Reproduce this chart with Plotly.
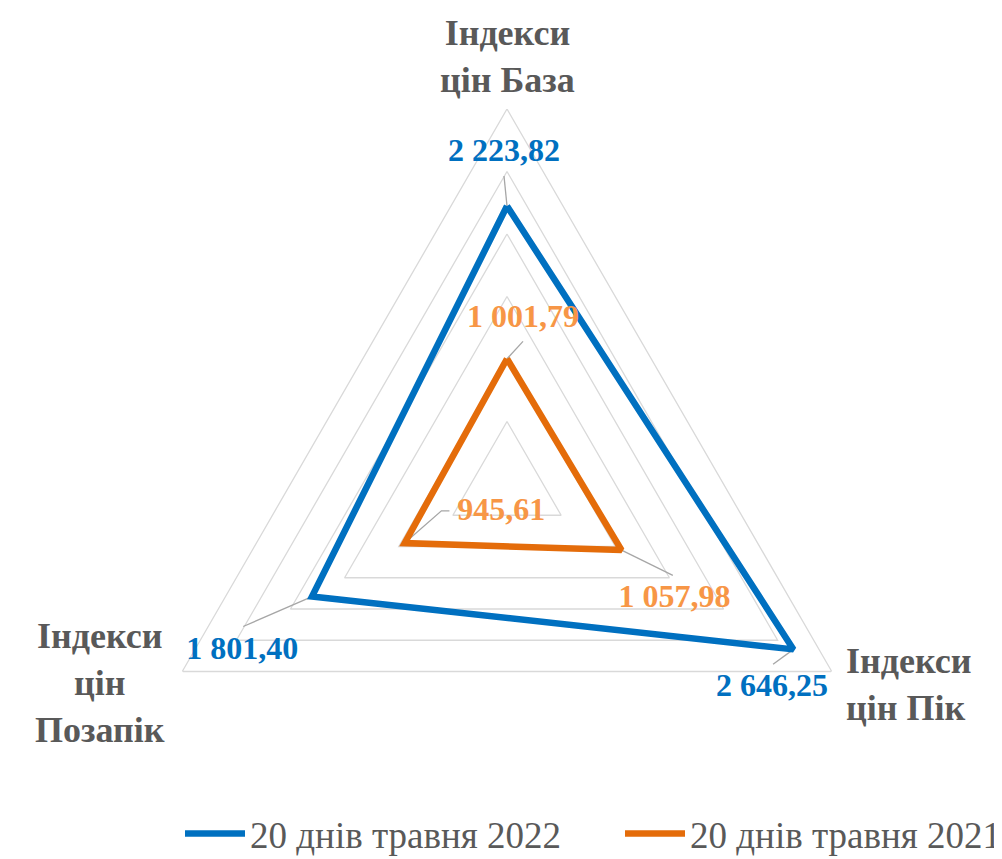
import math
import plotly.graph_objects as go

# ---------------- data ----------------
categories = ["Індекси цін База", "Індекси цін Пік", "Індекси цін Позапік"]
category_labels = ["Індекси<br>цін База", "Індекси<br>цін Пік", "Індекси<br>цін<br>Позапік"]
series_names = ["20 днів травня 2022", "20 днів травня 2021"]
values_2022 = [2223.82, 2646.25, 1801.40]
values_2021 = [1001.79, 1057.98, 945.61]
grid_ticks = [500, 1000, 1500, 2000, 2500, 3000]

# ---------------- styling / layout constants ----------------
OFF = 8                              # page body margin in the browser
VIEW_W, VIEW_H = 1002, 859
W, H = VIEW_W - OFF, VIEW_H - OFF    # figure size
CX, CY = 507, 484                    # centre of the radar (screen px)
R_PX = 375                           # pixel radius of the outer grid triangle
RANGE_MAX = 3000
PX_PER_UNIT = R_PX / RANGE_MAX

BLUE = "#0070C0"
ORANGE = "#E46C0A"
ORANGE_TXT = "#F79646"
GRID = "#D9D9D9"
LEADER = "#A6A6A6"
GREY_TXT = "#595959"
FONT = "Liberation Serif"

# label offsets from their data point, in px (dx right, dy down)
label_off_2022 = [(-3, -52.6), (-21.4, 38.5), (-69.8, 54.6)]
label_off_2021 = [(16, -39.4), (53, 48.9), (96.5, -31.3)]
leader_2022 = [[(-3, -30)], [(-20.4, 14.8)], [(-68.8, 29.9)]]
leader_2021 = [[(16, -17.4)], [(51.3, 25.2)], [(36.8, -32.3), (44.8, -32.3)]]
# category label anchors relative to their vertex (px) and their anchoring
cat_anchor = [(0, -52), (12, 13), (-82, 11)]
cat_xanchor = ["center", "left", "center"]
cat_align = ["center", "left", "center"]

n = len(categories)
theta = [i * 360 / n for i in range(n)]


def fmt(v):
    return f"{v:,.2f}".replace(",", " ").replace(".", ",")


def to_xy(r, th):
    a = math.radians(th)
    return r * math.sin(a), r * math.cos(a)


def to_polar(x, y):
    return math.hypot(x, y), math.degrees(math.atan2(x, y)) % 360


def offset(r, th, dx, dy):
    x, y = to_xy(r, th)
    return to_polar(x + dx / PX_PER_UNIT, y - dy / PX_PER_UNIT)


def paper(sx, sy):
    return (sx - OFF) / W, (H - (sy - OFF)) / H


fig = go.Figure()

# grid triangles
gr, gt = [], []
for t in grid_ticks:
    gr += [t] * (n + 1) + [None]
    gt += theta + [theta[0], None]
fig.add_trace(go.Scatterpolar(r=gr, theta=gt, mode="lines", line=dict(color=GRID, width=1.3),
                              showlegend=False, hoverinfo="skip", connectgaps=False))

# leader lines
lr, lt = [], []
for vals, leads in [(values_2022, leader_2022), (values_2021, leader_2021)]:
    for v, th, pts in zip(vals, theta, leads):
        lr.append(v); lt.append(th)
        for dx, dy in pts:
            rr, tt = offset(v, th, dx, dy)
            lr.append(rr); lt.append(tt)
        lr.append(None); lt.append(None)
fig.add_trace(go.Scatterpolar(r=lr, theta=lt, mode="lines", line=dict(color=LEADER, width=1.3),
                              showlegend=False, hoverinfo="skip", connectgaps=False))

# series
for name, vals, col, lg in [(series_names[0], values_2022, BLUE, "legend"),
                            (series_names[1], values_2021, ORANGE, "legend2")]:
    fig.add_trace(go.Scatterpolar(r=vals + [vals[0]], theta=theta + [theta[0]], mode="lines", name=name,
                                  line=dict(color=col, width=6.5), legend=lg))

# data labels
for vals, offs, col in [(values_2022, label_off_2022, BLUE), (values_2021, label_off_2021, ORANGE_TXT)]:
    rs, ts = [], []
    for v, th, (dx, dy) in zip(vals, theta, offs):
        rr, tt = offset(v, th, dx, dy)
        rs.append(rr); ts.append(tt)
    fig.add_trace(go.Scatterpolar(r=rs, theta=ts, mode="text", text=[fmt(v) for v in vals],
                                  textposition="middle center",
                                  textfont=dict(family=FONT, size=32, color=col, weight="bold"),
                                  showlegend=False, hoverinfo="skip", cliponaxis=False))

# category labels, placed next to the outer vertices
for lab, th, (dx, dy), xa, al in zip(category_labels, theta, cat_anchor, cat_xanchor, cat_align):
    vx, vy = to_xy(R_PX, th)
    px, py = paper(CX + vx + dx, CY - vy + dy)
    fig.add_annotation(text=lab, xref="paper", yref="paper", x=px, y=py,
                       xanchor=xa, yanchor="middle", align=al, showarrow=False,
                       font=dict(family=FONT, size=36, color=GREY_TXT, weight="bold"))

legend_style = dict(orientation="h", xanchor="left", yanchor="middle", y=(H - 826) / H,
                    font=dict(family=FONT, size=37, color=GREY_TXT), itemwidth=60,
                    bgcolor="rgba(0,0,0,0)")

fig.update_layout(
    width=W, height=H,
    margin=dict(l=0, r=0, t=0, b=0, autoexpand=False),
    paper_bgcolor="white",
    polar=dict(
        domain=dict(x=[(CX - OFF - R_PX) / W, (CX - OFF + R_PX) / W],
                    y=[(H - (CY - OFF) - R_PX) / H, (H - (CY - OFF) + R_PX) / H]),
        bgcolor="rgba(0,0,0,0)",
        radialaxis=dict(visible=False, range=[0, RANGE_MAX]),
        angularaxis=dict(visible=False, direction="clockwise", rotation=90),
    ),
    showlegend=True,
    legend=dict(x=172 / W, **legend_style),
    legend2=dict(x=612 / W, **legend_style),
)

fig.write_html("out.html")
